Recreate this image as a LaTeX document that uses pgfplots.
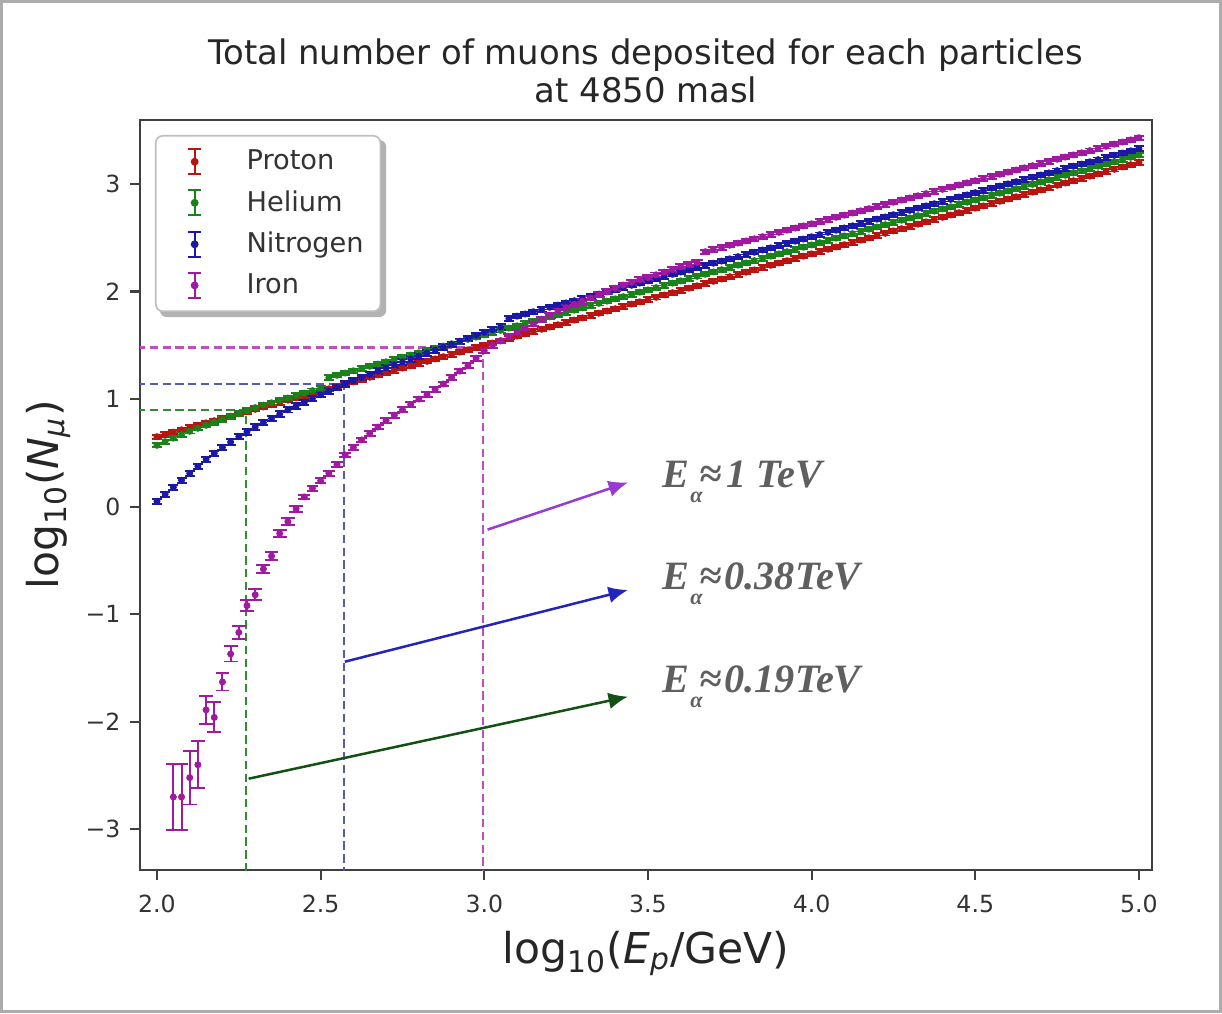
\documentclass[border=0pt]{standalone}
\usepackage{pgfplots}
\pgfplotsset{compat=1.18}
\usepackage{fontspec}
\setmainfont{DejaVu Sans}
\newfontfamily\annfont{Liberation Serif}
\usetikzlibrary{arrows.meta,backgrounds}
\definecolor{pcol}{RGB}{185,20,15}
\definecolor{hcol}{RGB}{25,130,25}
\definecolor{ncol}{RGB}{25,25,165}
\definecolor{icol}{RGB}{160,25,160}
\definecolor{dpur}{RGB}{190,80,190}
\definecolor{dblu}{RGB}{90,90,170}
\definecolor{dgrn}{RGB}{50,140,50}
\definecolor{apur}{RGB}{150,60,210}
\definecolor{ablu}{RGB}{35,35,190}
\definecolor{agrn}{RGB}{20,80,20}
\definecolor{anntext}{RGB}{95,95,95}
\pgfplotsset{
  errleg/.style={legend image code/.code={%
    \path[draw=none,fill=none] (0pt,-4pt) rectangle (26.7pt,4pt);
    \draw[#1, line width=0.8pt] (10pt,-4.5pt) -- (10pt,4.5pt) (7.7pt,-4.5pt) -- (12.3pt,-4.5pt) (7.7pt,4.5pt) -- (12.3pt,4.5pt);
    \fill[#1] (10pt,0pt) circle (1.1pt);}},
  eb/.style 2 args={only marks, mark=*, mark size=1.05pt, color=#1, forget plot,
    error bars/y dir=both, error bars/error bar style={line width=0.7pt, color=#1},
    error bars/error mark options={rotate=90, mark size=#2, line width=0.7pt, color=#1}},
}
\begin{document}
\begin{tikzpicture}
\useasboundingbox (0,0) rectangle (440pt,364.8pt);
\draw[gray!65, line width=1pt] (0.5pt,0.5pt) rectangle (439.5pt,364.3pt);
\begin{axis}[
  at={(50.4pt,51.5pt)}, anchor=south west,
  scale only axis, width=364.4pt, height=270.1pt,
  xmin=1.948, xmax=5.040, ymin=-3.38, ymax=3.595,
  axis line style={black!75, line width=0.8pt},
  tick align=outside, xtick pos=left, ytick pos=left,
  major tick length=3.5pt, tick style={black!75, line width=0.8pt},
  xtick={2,2.5,3,3.5,4,4.5,5}, xticklabels={2.0,2.5,3.0,3.5,4.0,4.5,5.0},
  ytick={-3,-2,-1,0,1,2,3}, yticklabels={−3,−2,−1,0,1,2,3},
  ticklabel style={font=\fontsize{8.5}{10}\selectfont, black!80},
  xticklabel style={yshift=-2pt},
  xlabel={log\textsubscript{10}(\textit{E}\textsubscript{\textit{p}}/GeV)},
  ylabel={log\textsubscript{10}(\textit{N}\textsubscript{\textit{μ}})},
  label style={font=\fontsize{15.3}{18}\selectfont, black!85},
  xlabel style={at={(axis description cs:0.5,0)}, anchor=base, yshift=-33.8pt},
  ylabel style={at={(axis description cs:0,0.5)}, anchor=base, yshift=29.5pt},
  title={Total number of muons deposited for each particles\\at 4850 masl},
  title style={at={(axis description cs:0.5,1)}, anchor=south, align=center, inner sep=0pt, yshift=0pt, font=\fontsize{12.2}{13.7}\selectfont, black!85},
  legend cell align=left,
  legend style={name=leg, at={(0.0148,0.98)}, anchor=north west, font=\fontsize{9.8}{11}\selectfont,
    draw=black!25, line width=0.6pt, rounded corners=2.5pt, fill=white,
    inner xsep=4pt, inner ysep=3pt, row sep=2pt, text=black!80},
]
\addlegendimage{errleg=pcol}\addlegendentry{Proton}
\addlegendimage{errleg=hcol}\addlegendentry{Helium}
\addlegendimage{errleg=ncol}\addlegendentry{Nitrogen}
\addlegendimage{errleg=icol}\addlegendentry{Iron}

% reference dashed lines
\addplot[dpur, dash pattern=on 3pt off 1.6pt, line width=0.8pt, forget plot] coordinates {(1.90,1.48) (2.996,1.48) (2.996,-3.5)};
\addplot[dblu, dash pattern=on 3pt off 1.6pt, line width=0.8pt, forget plot] coordinates {(1.90,1.14) (2.571,1.14) (2.571,-3.5)};
\addplot[dgrn, dash pattern=on 3pt off 1.6pt, line width=0.8pt, forget plot] coordinates {(1.90,0.90) (2.272,0.90) (2.272,-3.5)};

% Proton
\addplot[eb={pcol}{1.8pt}, error bars/y fixed=0.02] table {
x y
2.000 0.650
2.025 0.671
2.050 0.693
2.075 0.714
2.100 0.735
2.125 0.756
2.150 0.778
2.175 0.799
2.200 0.820
2.225 0.841
2.250 0.863
2.275 0.884
2.300 0.905
2.325 0.926
2.350 0.948
2.375 0.969
2.400 0.990
2.425 1.011
2.450 1.033
2.475 1.054
2.500 1.075
2.525 1.096
2.550 1.118
2.575 1.139
2.600 1.160
2.625 1.181
2.650 1.203
2.675 1.224
2.700 1.245
2.725 1.266
2.750 1.288
2.775 1.309
2.800 1.330
2.825 1.351
2.850 1.373
2.875 1.394
2.900 1.415
2.925 1.436
2.950 1.458
2.975 1.479
3.000 1.500
3.025 1.521
3.050 1.543
3.075 1.564
3.100 1.585
3.125 1.606
3.150 1.628
3.175 1.649
3.200 1.670
3.225 1.691
3.250 1.713
3.275 1.734
3.300 1.755
3.325 1.776
3.350 1.798
3.375 1.819
3.400 1.840
3.425 1.861
3.450 1.883
3.475 1.904
3.500 1.925
3.525 1.946
3.550 1.968
3.575 1.989
3.600 2.010
3.625 2.031
3.650 2.053
3.675 2.074
3.700 2.095
3.725 2.116
3.750 2.138
3.775 2.159
3.800 2.180
3.825 2.201
3.850 2.223
3.875 2.244
3.900 2.265
3.925 2.286
3.950 2.308
3.975 2.329
4.000 2.350
4.025 2.371
4.050 2.393
4.075 2.414
4.100 2.435
4.125 2.456
4.150 2.478
4.175 2.499
4.200 2.520
4.225 2.541
4.250 2.563
4.275 2.584
4.300 2.605
4.325 2.626
4.350 2.648
4.375 2.669
4.400 2.690
4.425 2.711
4.450 2.733
4.475 2.754
4.500 2.775
4.525 2.796
4.550 2.818
4.575 2.839
4.600 2.860
4.625 2.881
4.650 2.903
4.675 2.924
4.700 2.945
4.725 2.966
4.750 2.988
4.775 3.009
4.800 3.030
4.825 3.051
4.850 3.073
4.875 3.094
4.900 3.115
4.925 3.136
4.950 3.158
4.975 3.179
5.000 3.200
};

% Helium
\addplot[eb={hcol}{1.8pt}, error bars/y fixed=0.02] table {
x y
2.000 0.570
2.025 0.604
2.050 0.637
2.075 0.669
2.100 0.700
2.125 0.728
2.150 0.756
2.175 0.783
2.200 0.810
2.225 0.838
2.250 0.865
2.275 0.893
2.300 0.920
2.325 0.943
2.350 0.965
2.375 0.988
2.400 1.010
2.425 1.033
2.450 1.055
2.475 1.078
2.500 1.100
};
\addplot[eb={hcol}{1.8pt}, error bars/y fixed=0.02] table {
x y
2.525 1.200
2.550 1.221
2.575 1.242
2.600 1.263
2.625 1.284
2.650 1.305
2.675 1.325
2.700 1.346
2.725 1.367
2.750 1.388
2.775 1.409
2.800 1.430
2.825 1.451
2.850 1.472
2.875 1.493
2.900 1.514
2.925 1.534
2.950 1.555
2.975 1.576
3.000 1.597
3.025 1.618
3.050 1.639
3.075 1.660
3.100 1.681
3.125 1.702
3.150 1.723
3.175 1.743
3.200 1.764
3.225 1.785
3.250 1.806
3.275 1.827
3.300 1.848
3.325 1.869
3.350 1.890
3.375 1.911
3.400 1.932
3.425 1.952
3.450 1.973
3.475 1.994
3.500 2.015
3.525 2.036
3.550 2.057
3.575 2.078
3.600 2.099
3.625 2.120
3.650 2.141
3.675 2.161
3.700 2.182
3.725 2.203
3.750 2.224
3.775 2.245
3.800 2.266
3.825 2.287
3.850 2.308
3.875 2.329
3.900 2.350
3.925 2.370
3.950 2.391
3.975 2.412
4.000 2.433
4.025 2.454
4.050 2.475
4.075 2.496
4.100 2.517
4.125 2.538
4.150 2.559
4.175 2.579
4.200 2.600
4.225 2.621
4.250 2.642
4.275 2.663
4.300 2.684
4.325 2.705
4.350 2.726
4.375 2.747
4.400 2.768
4.425 2.788
4.450 2.809
4.475 2.830
4.500 2.851
4.525 2.872
4.550 2.893
4.575 2.914
4.600 2.935
4.625 2.956
4.650 2.977
4.675 2.997
4.700 3.018
4.725 3.039
4.750 3.060
4.775 3.081
4.800 3.102
4.825 3.123
4.850 3.144
4.875 3.165
4.900 3.186
4.925 3.206
4.950 3.227
4.975 3.248
5.000 3.269
};

% Nitrogen
\addplot[eb={ncol}{1.8pt}, error bars/y fixed=0.025] table {
x y
2.000 0.050
2.025 0.115
2.050 0.180
2.075 0.245
2.100 0.310
2.125 0.375
2.150 0.440
2.175 0.495
2.200 0.550
2.225 0.600
2.250 0.650
2.275 0.695
2.300 0.740
2.325 0.780
2.350 0.820
2.375 0.860
2.400 0.900
2.425 0.935
2.450 0.970
2.475 1.005
2.500 1.040
2.525 1.075
2.550 1.110
2.575 1.140
2.600 1.170
2.625 1.200
2.650 1.230
2.675 1.260
2.700 1.290
2.725 1.318
2.750 1.345
2.775 1.373
2.800 1.400
2.825 1.428
2.850 1.455
2.875 1.483
2.900 1.510
2.925 1.538
2.950 1.565
2.975 1.593
3.000 1.620
3.025 1.645
3.050 1.670
};
\addplot[eb={ncol}{1.8pt}, error bars/y fixed=0.02] table {
x y
3.075 1.750
3.100 1.771
3.125 1.791
3.150 1.812
3.175 1.832
3.200 1.853
3.225 1.873
3.250 1.894
3.275 1.914
3.300 1.935
3.325 1.955
3.350 1.976
3.375 1.996
3.400 2.017
3.425 2.037
3.450 2.058
3.475 2.078
3.500 2.099
3.525 2.119
3.550 2.140
3.575 2.160
3.600 2.181
3.625 2.201
3.650 2.222
3.675 2.242
3.700 2.263
3.725 2.283
3.750 2.304
3.775 2.324
3.800 2.345
3.825 2.365
3.850 2.386
3.875 2.406
3.900 2.427
3.925 2.447
3.950 2.468
3.975 2.488
4.000 2.509
4.025 2.529
4.050 2.550
4.075 2.570
4.100 2.591
4.125 2.611
4.150 2.632
4.175 2.652
4.200 2.673
4.225 2.693
4.250 2.714
4.275 2.734
4.300 2.755
4.325 2.775
4.350 2.796
4.375 2.816
4.400 2.837
4.425 2.857
4.450 2.878
4.475 2.898
4.500 2.919
4.525 2.939
4.550 2.960
4.575 2.980
4.600 3.001
4.625 3.021
4.650 3.042
4.675 3.062
4.700 3.083
4.725 3.103
4.750 3.124
4.775 3.144
4.800 3.165
4.825 3.185
4.850 3.206
4.875 3.226
4.900 3.247
4.925 3.267
4.950 3.288
4.975 3.308
5.000 3.329
};

% Iron
\addplot[eb={icol}{2.5pt}, error bars/y explicit] table[x index=0, y index=1, y error index=2] {
x y e
2.050 -2.70 0.31
2.075 -2.70 0.31
2.100 -2.52 0.25
2.125 -2.40 0.22
2.150 -1.89 0.13
2.175 -1.96 0.14
2.200 -1.63 0.08
2.225 -1.37 0.07
2.250 -1.17 0.06
2.275 -0.92 0.05
2.300 -0.82 0.05
2.325 -0.58 0.04
2.350 -0.46 0.04
2.375 -0.25 0.035
2.400 -0.14 0.035
2.425 -0.02 0.03
};
\addplot[eb={icol}{2.1pt}, error bars/y fixed=0.022] table {
x y
2.450 0.09
2.475 0.17
2.500 0.24
2.525 0.31
2.550 0.39
2.575 0.48
2.600 0.55
2.625 0.62
2.650 0.68
2.675 0.74
2.700 0.80
2.725 0.85
2.750 0.90
2.775 0.95
2.800 1.00
2.825 1.04
2.850 1.09
2.875 1.14
2.900 1.20
2.925 1.26
2.950 1.31
2.975 1.38
3.000 1.45
3.025 1.50
3.050 1.54
3.075 1.58
3.100 1.62
3.125 1.66
3.150 1.70
3.175 1.74
3.200 1.78
3.225 1.82
3.250 1.85
3.275 1.88
3.300 1.91
3.325 1.94
3.350 1.97
3.375 2.00
3.400 2.03
3.425 2.06
3.450 2.085
3.475 2.11
3.500 2.13
3.525 2.155
3.550 2.18
3.575 2.205
3.600 2.23
3.625 2.25
3.650 2.27
};
\addplot[eb={icol}{1.8pt}, error bars/y fixed=0.02] table {
x y
3.675 2.370
3.700 2.390
3.725 2.410
3.750 2.430
3.775 2.450
3.800 2.470
3.825 2.490
3.850 2.510
3.875 2.530
3.900 2.550
3.925 2.570
3.950 2.590
3.975 2.610
4.000 2.630
4.025 2.650
4.050 2.670
4.075 2.690
4.100 2.710
4.125 2.730
4.150 2.750
4.175 2.770
4.200 2.790
4.225 2.810
4.250 2.830
4.275 2.850
4.300 2.870
4.325 2.890
4.350 2.910
4.375 2.930
4.400 2.950
4.425 2.970
4.450 2.990
4.475 3.010
4.500 3.030
4.525 3.050
4.550 3.070
4.575 3.090
4.600 3.110
4.625 3.130
4.650 3.150
4.675 3.170
4.700 3.190
4.725 3.210
4.750 3.230
4.775 3.250
4.800 3.270
4.825 3.290
4.850 3.310
4.875 3.330
4.900 3.350
4.925 3.370
4.950 3.390
4.975 3.410
5.000 3.430
};

% arrows
\addplot[apur, line width=0.9pt, -{Latex[length=7pt,width=6pt]}, forget plot] coordinates {(3.010,-0.214) (3.439,0.225)};
\addplot[ablu, line width=0.9pt, -{Latex[length=7pt,width=6pt]}, forget plot] coordinates {(2.574,-1.442) (3.439,-0.775)};
\addplot[agrn, line width=0.9pt, -{Latex[length=7pt,width=6pt]}, forget plot] coordinates {(2.280,-2.530) (3.439,-1.767)};

% annotations
\node[anchor=base west, inner sep=0pt, text=anntext, font=\annfont\bfseries\itshape\fontsize{14.5}{16}\selectfont] at (axis cs:3.543,0.177) {E\kern0.3pt\raisebox{-5.5pt}{\fontsize{8}{8}\selectfont α}\kern-1pt≈\kern1.5pt1 TeV};
\node[anchor=base west, inner sep=0pt, text=anntext, font=\annfont\bfseries\itshape\fontsize{14.5}{16}\selectfont] at (axis cs:3.543,-0.77) {E\kern0.3pt\raisebox{-5.5pt}{\fontsize{8}{8}\selectfont α}\kern-1pt≈\kern1pt0.38TeV};
\node[anchor=base west, inner sep=0pt, text=anntext, font=\annfont\bfseries\itshape\fontsize{14.5}{16}\selectfont] at (axis cs:3.543,-1.73) {E\kern0.3pt\raisebox{-5.5pt}{\fontsize{8}{8}\selectfont α}\kern-1pt≈\kern1pt0.19TeV};
\end{axis}
\begin{scope}[on background layer]
\fill[black!30, rounded corners=2.5pt] ([shift={(1.8pt,-1.8pt)}]leg.south west) rectangle ([shift={(1.8pt,-1.8pt)}]leg.north east);
\end{scope}
\end{tikzpicture}
\end{document}
